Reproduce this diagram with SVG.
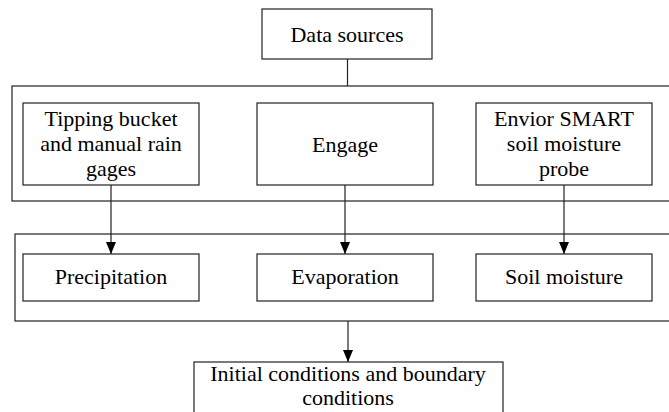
<svg xmlns="http://www.w3.org/2000/svg" width="669" height="412" viewBox="0 0 669 412">
<style>
.box{fill:#fff;stroke:#222;stroke-width:1.2}
.frame{fill:none;stroke:#222;stroke-width:1.2}
.conn{fill:none;stroke:#222;stroke-width:1.2}
text{font-family:"Liberation Serif","Times New Roman",serif;font-size:22px;fill:#000;text-anchor:middle}
</style>
<defs>
<marker id="arr" viewBox="0 0 12 10" refX="12" refY="5" markerWidth="12" markerHeight="10" markerUnits="userSpaceOnUse" orient="auto">
<path d="M0,0 L12,5 L0,10 Z" fill="#000"/>
</marker>
</defs>
<rect width="669" height="412" fill="#fff"/>
<g id="frame-sources"><rect class="frame" x="12" y="86" width="680" height="115"/></g>
<g id="frame-variables"><rect class="frame" x="15" y="234" width="680" height="87"/></g>
<g id="connectors">
<line class="conn" x1="347.5" y1="59" x2="347.5" y2="86"/>
<path class="conn" d="M111,185 V254" marker-end="url(#arr)"/>
<path class="conn" d="M345,185 V254" marker-end="url(#arr)"/>
<path class="conn" d="M564,185 V254" marker-end="url(#arr)"/>
<path class="conn" d="M348,321 V362" marker-end="url(#arr)"/>
</g>
<g id="data-sources"><rect class="box" x="262" y="9" width="170" height="50"/><text x="347" y="42">Data sources</text></g>
<g id="tipping-bucket"><rect class="box" x="23" y="103" width="176" height="82"/><text x="111" y="126">Tipping bucket</text><text x="111" y="151">and manual rain</text><text x="111" y="176">gages</text></g>
<g id="engage"><rect class="box" x="257" y="103" width="176" height="82"/><text x="345" y="152">Engage</text></g>
<g id="envior"><rect class="box" x="476" y="103" width="176" height="82"/><text x="564" y="126">Envior SMART</text><text x="564" y="151">soil moisture</text><text x="564" y="176">probe</text></g>
<g id="precipitation"><rect class="box" x="23" y="254" width="176" height="47"/><text x="111" y="284">Precipitation</text></g>
<g id="evaporation"><rect class="box" x="257" y="254" width="176" height="47"/><text x="345" y="284">Evaporation</text></g>
<g id="soil-moisture"><rect class="box" x="476" y="254" width="176" height="47"/><text x="564" y="284">Soil moisture</text></g>
<g id="initial-conditions"><rect class="box" x="194" y="362" width="309" height="60"/><text x="348" y="381">Initial conditions and boundary</text><text x="348" y="405">conditions</text></g>
</svg>
